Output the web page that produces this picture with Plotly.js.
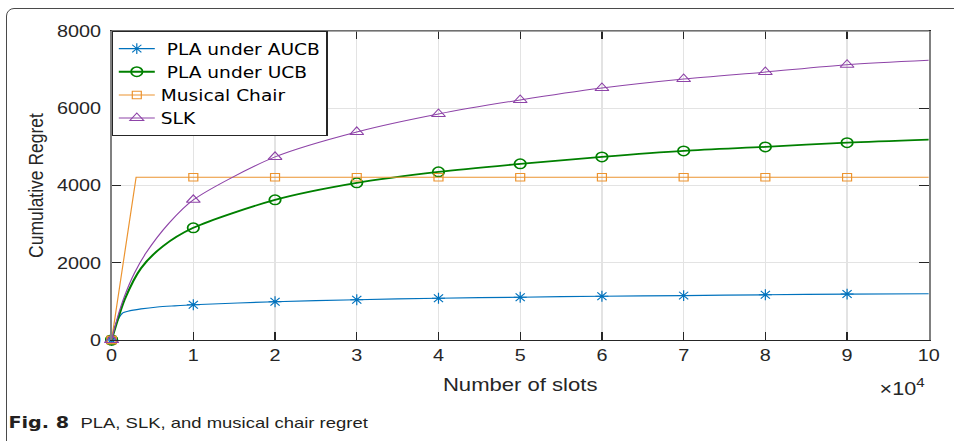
<!DOCTYPE html>
<html>
<head>
<meta charset="utf-8">
<script src="https://cdn.plot.ly/plotly-3.0.1.min.js"></script>
<style>
  html, body { margin: 0; padding: 0; background: #fff; overflow: hidden; width: 954px; height: 441px; }
  #wrap { position: absolute; left: 0; top: 0; width: 795px; height: 441px; transform: scaleX(1.2); transform-origin: 0 0; }
  #frame { position: absolute; left: 6px; top: 8px; width: 1000px; height: 600px; border: 1.5px solid #4a4a4a; border-radius: 8px; pointer-events: none; z-index: 5; }
</style>
</head>
<body>
<div id="frame"></div>
<div id="wrap"><div id="chart" style="width:795px;height:441px;"></div></div>
<script>
// x values in units of 10^4 slots
const xAUCB = [0, 0.035, 0.076, 0.137, 0.2, 0.36, 0.56, 0.77, 1, 2, 3, 4, 5, 6, 7, 8, 9, 10];
const yAUCB = [0, 300, 520, 703, 745, 805, 855, 885, 913, 990, 1042, 1081, 1107, 1133, 1150, 1171, 1190, 1197];

const xUCB = [0, 0.05, 0.16, 0.36, 0.63, 1, 2, 3, 4, 5, 6, 7, 8, 9, 10];
const yUCB = [0, 350, 1050, 1860, 2430, 2904, 3628, 4068, 4353, 4560, 4741, 4896, 5000, 5110, 5188];

const xMC = [0, 0.3, 10];
const yMC = [0, 4215, 4215];

const xSLK = [0, 0.076, 0.157, 0.28, 0.42, 0.7, 1, 2, 3, 4, 5, 6, 7, 8, 9, 10];
const ySLK = [0, 610, 1128, 1733, 2250, 3020, 3628, 4741, 5387, 5852, 6214, 6524, 6757, 6938, 7127, 7241];

// marker positions (every 10^4 slots)
const markX = [0, 1, 2, 3, 4, 5, 6, 7, 8, 9];
const markAUCB = [0, 913, 990, 1042, 1081, 1107, 1133, 1150, 1171, 1190];
const markUCB = [0, 2904, 3628, 4068, 4353, 4560, 4741, 4896, 5000, 5110];
const markMC = [0, 4215, 4215, 4215, 4215, 4215, 4215, 4215, 4215, 4215];
const markSLK = [0, 3628, 4741, 5387, 5852, 6214, 6524, 6757, 6938, 7127];

const names = ["\u00a0PLA under AUCB", "\u00a0PLA under UCB", "Musical Chair", "SLK"];
const xTickLabels = ["0","1","2","3","4","5","6","7","8","9","10"];
const yTickLabels = ["0","2000","4000","6000","8000"];

const xTickVals = xTickLabels.map(Number);
const yTickVals = yTickLabels.map(Number);

const series = [
  {lx: xAUCB, ly: yAUCB, my: markAUCB, color: "#0072BD", lw: 1.2, sym: "asterisk-open", ms: 9, mlw: 1, shape: "spline"},
  {lx: xUCB, ly: yUCB, my: markUCB, color: "#008000", lw: 1.8, sym: "circle-open", ms: 9.5, mlw: 1.5, shape: "spline"},
  {lx: xMC, ly: yMC, my: markMC, color: "#EC9430", lw: 1, sym: "square-open", ms: 7.5, mlw: 1, shape: "linear"},
  {lx: xSLK, ly: ySLK, my: markSLK, color: "#8E44A8", lw: 1, sym: "triangle-up-open", ms: 10, mlw: 1, shape: "spline"}
];

const traces = [];
series.forEach((s, i) => {
  traces.push({x: s.lx, y: s.ly, mode: "lines", line: {color: s.color, width: s.lw, shape: s.shape, smoothing: 0.8},
               showlegend: false, hoverinfo: "skip"});
  traces.push({x: markX, y: s.my, mode: "markers", cliponaxis: false,
               marker: {symbol: s.sym, size: s.ms, color: s.color, line: {color: s.color, width: s.mlw}},
               showlegend: false});
  traces.push({x: [markX[0]], y: [s.my[0]], mode: "lines+markers", name: names[i], cliponaxis: false,
               line: {color: s.color, width: s.lw}, marker: {symbol: s.sym, size: s.ms, color: s.color, line: {color: s.color, width: s.mlw}},
               showlegend: true});
});

const font = "Liberation Sans, Arial, Helvetica, sans-serif";

const layout = {
  width: 795, height: 441,
  margin: {l: 93.33, r: 20.83, t: 31, b: 101, pad: 0},
  paper_bgcolor: "rgba(0,0,0,0)",
  plot_bgcolor: "#ffffff",
  font: {family: font, color: "#262626", size: 16.5},
  showlegend: true,
  legend: {x: 0, y: 1, xanchor: "left", yanchor: "top", bgcolor: "#ffffff", bordercolor: "#262626", borderwidth: 1,
           font: {family: "DejaVu Sans, sans-serif", size: 15.5, color: "#000000"}, tracegroupgap: 0, itemclick: false},
  xaxis: {
    range: [0, 10], tickvals: xTickVals, ticktext: xTickLabels,
    showgrid: true, gridcolor: "#e3e3e3", gridwidth: 1, zeroline: false,
    showline: true, linecolor: "#262626", linewidth: 1, mirror: "ticks",
    ticks: "inside", ticklen: 8, tickcolor: "#262626", tickwidth: 1,
    tickfont: {family: font, size: 16.5, color: "#262626"},
    title: {text: "Number of slots", font: {family: font, size: 18.4, color: "#262626"}, standoff: 15},
    automargin: false
  },
  yaxis: {
    range: [0, 8000], tickvals: yTickVals, ticktext: yTickLabels,
    showgrid: true, gridcolor: "#e3e3e3", gridwidth: 1, zeroline: false,
    showline: true, linecolor: "#808080", linewidth: 1.5, mirror: "ticks",
    ticks: "inside", ticklen: 8, tickcolor: "#262626", tickwidth: 1,
    tickfont: {family: font, size: 16.5, color: "#262626"},
    ticklabelstandoff: 4,
    title: {text: "Cumulative Regret", font: {family: font, size: 17.5, color: "#262626"}, standoff: 6},
    automargin: false
  },
  shapes: [
    {type: "line", xref: "paper", yref: "paper", x0: 0, x1: 1, y0: 1, y1: 1, line: {color: "#8a8a8a", width: 1.5}, layer: "above"}
  ],
  annotations: [
    {xref: "paper", yref: "paper", x: 0.968, y: -0.155, xanchor: "center", yanchor: "middle", showarrow: false,
     text: "\u00d710<sup>4</sup>", font: {family: font, size: 18, color: "#262626"}},
    {xref: "paper", yref: "paper", x: -0.129, y: -0.2654, xanchor: "left", yanchor: "middle", showarrow: false,
     text: "<b>Fig. 8</b>", font: {family: "DejaVu Sans, sans-serif", size: 16, color: "#231f20"}},
    {xref: "paper", yref: "paper", x: -0.0412, y: -0.2654, xanchor: "left", yanchor: "middle", showarrow: false,
     text: "PLA, SLK, and musical chair regret", font: {family: font, size: 15.4, color: "#231f20"}}
  ]
};

Plotly.newPlot("chart", traces, layout, {displayModeBar: false, staticPlot: true});
</script>
</body>
</html>
